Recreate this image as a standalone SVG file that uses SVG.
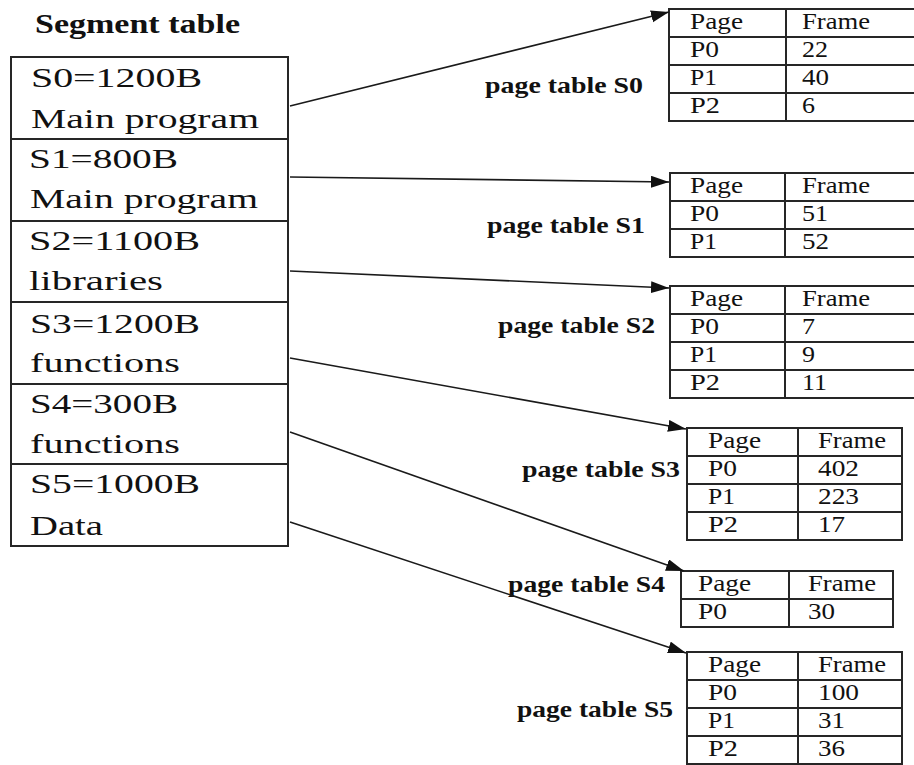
<svg xmlns="http://www.w3.org/2000/svg" width="914" height="765" viewBox="0 0 914 765">
<style>
  .bg{fill:#fff}
  .box{fill:#fff;stroke:#262626;stroke-width:2}
  .ln{stroke:#262626;stroke-width:2;fill:none}
  .seg{font-family:"Liberation Serif","Times New Roman",serif;font-size:28px;fill:#111}
  .title{font-family:"Liberation Serif","Times New Roman",serif;font-size:28px;font-weight:bold;fill:#111}
  .cell{font-family:"Liberation Serif","Times New Roman",serif;font-size:24px;fill:#111}
  .lbl{font-family:"Liberation Serif","Times New Roman",serif;font-size:23px;font-weight:bold;fill:#111}
  .arr{stroke:#1a1a1a;stroke-width:1.6;fill:none;marker-end:url(#ah)}
</style>
<defs>
  <marker id="ah" markerUnits="userSpaceOnUse" markerWidth="19" markerHeight="13" refX="18" refY="6" orient="auto">
    <path d="M0,0 L18,6 L0,12 z" fill="#111"/>
  </marker>
</defs>
<rect class="bg" x="0" y="0" width="914" height="765"/>

<text class="title" x="35" y="33" textLength="205" lengthAdjust="spacingAndGlyphs">Segment table</text>

<g id="segment-table">
  <rect class="box" x="11" y="57" width="277" height="489"/>
  <path class="ln" d="M11,139H288M11,221H288M11,302H288M11,384H288M11,464H288"/>
  <text class="seg" x="31" y="87" textLength="171" lengthAdjust="spacingAndGlyphs">S0=1200B</text>
  <text class="seg" x="31" y="128" textLength="228" lengthAdjust="spacingAndGlyphs">Main program</text>
  <text class="seg" x="29" y="168" textLength="149" lengthAdjust="spacingAndGlyphs">S1=800B</text>
  <text class="seg" x="30" y="208" textLength="228" lengthAdjust="spacingAndGlyphs">Main program</text>
  <text class="seg" x="29" y="250" textLength="171" lengthAdjust="spacingAndGlyphs">S2=1100B</text>
  <text class="seg" x="29" y="290" textLength="134" lengthAdjust="spacingAndGlyphs">libraries</text>
  <text class="seg" x="30" y="333" textLength="170" lengthAdjust="spacingAndGlyphs">S3=1200B</text>
  <text class="seg" x="30" y="372" textLength="150" lengthAdjust="spacingAndGlyphs">functions</text>
  <text class="seg" x="30" y="413" textLength="148" lengthAdjust="spacingAndGlyphs">S4=300B</text>
  <text class="seg" x="30" y="453" textLength="150" lengthAdjust="spacingAndGlyphs">functions</text>
  <text class="seg" x="30" y="493" textLength="170" lengthAdjust="spacingAndGlyphs">S5=1000B</text>
  <text class="seg" x="30" y="535" textLength="73" lengthAdjust="spacingAndGlyphs">Data</text>
</g>

<g id="page-table-s0">
  <text class="lbl" x="485" y="93" textLength="158" lengthAdjust="spacingAndGlyphs">page table S0</text>
  <rect class="box" x="669" y="9" width="250" height="112"/>
  <path class="ln" d="M669,37H919M669,65H919M669,93H919M786,9V121"/>
  <text class="cell" x="690" y="29" textLength="53" lengthAdjust="spacingAndGlyphs">Page</text>
  <text class="cell" x="802" y="29" textLength="68" lengthAdjust="spacingAndGlyphs">Frame</text>
  <text class="cell" x="690" y="57" textLength="29" lengthAdjust="spacingAndGlyphs">P0</text>
  <text class="cell" x="802" y="57" textLength="26" lengthAdjust="spacingAndGlyphs">22</text>
  <text class="cell" x="690" y="85" textLength="27" lengthAdjust="spacingAndGlyphs">P1</text>
  <text class="cell" x="802" y="85" textLength="27" lengthAdjust="spacingAndGlyphs">40</text>
  <text class="cell" x="690" y="113" textLength="30" lengthAdjust="spacingAndGlyphs">P2</text>
  <text class="cell" x="802" y="113" textLength="13" lengthAdjust="spacingAndGlyphs">6</text>
</g>

<g id="page-table-s1">
  <text class="lbl" x="487" y="233" textLength="158" lengthAdjust="spacingAndGlyphs">page table S1</text>
  <rect class="box" x="670" y="173" width="250" height="84"/>
  <path class="ln" d="M670,201H920M670,229H920M785,173V257"/>
  <text class="cell" x="690" y="193" textLength="53" lengthAdjust="spacingAndGlyphs">Page</text>
  <text class="cell" x="802" y="193" textLength="68" lengthAdjust="spacingAndGlyphs">Frame</text>
  <text class="cell" x="690" y="221" textLength="29" lengthAdjust="spacingAndGlyphs">P0</text>
  <text class="cell" x="802" y="221" textLength="26" lengthAdjust="spacingAndGlyphs">51</text>
  <text class="cell" x="690" y="249" textLength="27" lengthAdjust="spacingAndGlyphs">P1</text>
  <text class="cell" x="802" y="249" textLength="27" lengthAdjust="spacingAndGlyphs">52</text>
</g>

<g id="page-table-s2">
  <text class="lbl" x="498" y="333" textLength="157" lengthAdjust="spacingAndGlyphs">page table S2</text>
  <rect class="box" x="670" y="286" width="250" height="112"/>
  <path class="ln" d="M670,314H920M670,342H920M670,370H920M785,286V398"/>
  <text class="cell" x="690" y="306" textLength="53" lengthAdjust="spacingAndGlyphs">Page</text>
  <text class="cell" x="802" y="306" textLength="68" lengthAdjust="spacingAndGlyphs">Frame</text>
  <text class="cell" x="690" y="334" textLength="29" lengthAdjust="spacingAndGlyphs">P0</text>
  <text class="cell" x="802" y="334" textLength="13" lengthAdjust="spacingAndGlyphs">7</text>
  <text class="cell" x="690" y="362" textLength="27" lengthAdjust="spacingAndGlyphs">P1</text>
  <text class="cell" x="802" y="362" textLength="13" lengthAdjust="spacingAndGlyphs">9</text>
  <text class="cell" x="690" y="390" textLength="30" lengthAdjust="spacingAndGlyphs">P2</text>
  <text class="cell" x="802" y="390" textLength="25" lengthAdjust="spacingAndGlyphs">11</text>
</g>

<g id="page-table-s3">
  <text class="lbl" x="522" y="477" textLength="158" lengthAdjust="spacingAndGlyphs">page table S3</text>
  <rect class="box" x="687" y="428" width="215" height="112"/>
  <path class="ln" d="M687,456H902M687,484H902M687,512H902M798,428V540"/>
  <text class="cell" x="708" y="448" textLength="53" lengthAdjust="spacingAndGlyphs">Page</text>
  <text class="cell" x="818" y="448" textLength="68" lengthAdjust="spacingAndGlyphs">Frame</text>
  <text class="cell" x="708" y="476" textLength="29" lengthAdjust="spacingAndGlyphs">P0</text>
  <text class="cell" x="818" y="476" textLength="41" lengthAdjust="spacingAndGlyphs">402</text>
  <text class="cell" x="708" y="504" textLength="27" lengthAdjust="spacingAndGlyphs">P1</text>
  <text class="cell" x="818" y="504" textLength="41" lengthAdjust="spacingAndGlyphs">223</text>
  <text class="cell" x="708" y="532" textLength="30" lengthAdjust="spacingAndGlyphs">P2</text>
  <text class="cell" x="818" y="532" textLength="27" lengthAdjust="spacingAndGlyphs">17</text>
</g>

<g id="page-table-s4">
  <text class="lbl" x="508" y="592" textLength="157" lengthAdjust="spacingAndGlyphs">page table S4</text>
  <rect class="box" x="681" y="571" width="212" height="56"/>
  <path class="ln" d="M681,599H893M789,571V627"/>
  <text class="cell" x="698" y="591" textLength="53" lengthAdjust="spacingAndGlyphs">Page</text>
  <text class="cell" x="808" y="591" textLength="68" lengthAdjust="spacingAndGlyphs">Frame</text>
  <text class="cell" x="698" y="619" textLength="29" lengthAdjust="spacingAndGlyphs">P0</text>
  <text class="cell" x="808" y="619" textLength="27" lengthAdjust="spacingAndGlyphs">30</text>
</g>

<g id="page-table-s5">
  <text class="lbl" x="517" y="717" textLength="156" lengthAdjust="spacingAndGlyphs">page table S5</text>
  <rect class="box" x="687" y="652" width="215" height="112"/>
  <path class="ln" d="M687,680H902M687,708H902M687,736H902M798,652V764"/>
  <text class="cell" x="708" y="672" textLength="53" lengthAdjust="spacingAndGlyphs">Page</text>
  <text class="cell" x="818" y="672" textLength="68" lengthAdjust="spacingAndGlyphs">Frame</text>
  <text class="cell" x="708" y="700" textLength="29" lengthAdjust="spacingAndGlyphs">P0</text>
  <text class="cell" x="818" y="700" textLength="41" lengthAdjust="spacingAndGlyphs">100</text>
  <text class="cell" x="708" y="728" textLength="27" lengthAdjust="spacingAndGlyphs">P1</text>
  <text class="cell" x="818" y="728" textLength="27" lengthAdjust="spacingAndGlyphs">31</text>
  <text class="cell" x="708" y="756" textLength="30" lengthAdjust="spacingAndGlyphs">P2</text>
  <text class="cell" x="818" y="756" textLength="27" lengthAdjust="spacingAndGlyphs">36</text>
</g>

<g id="connectors">
  <line class="arr" x1="290" y1="106" x2="669" y2="12"/>
  <line class="arr" x1="290" y1="177" x2="669" y2="182"/>
  <line class="arr" x1="290" y1="271" x2="669" y2="288"/>
  <line class="arr" x1="290" y1="358" x2="686" y2="429"/>
  <line class="arr" x1="290" y1="432" x2="684" y2="571"/>
  <line class="arr" x1="290" y1="522" x2="686" y2="653"/>
</g>
</svg>
